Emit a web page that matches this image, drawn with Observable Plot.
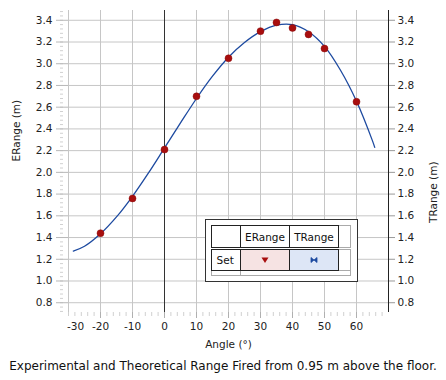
<!DOCTYPE html>
<html><head><meta charset="utf-8">
<script src="https://cdn.jsdelivr.net/npm/d3@7"></script>
<script src="https://cdn.jsdelivr.net/npm/@observablehq/plot@0.6"></script>
<style>
html,body{margin:0;padding:0;background:#fff;}
#wrap{position:relative;width:446px;height:380px;font-family:"DejaVu Sans",sans-serif;overflow:hidden;}
#chart{position:absolute;left:0;top:0;}
#caption{position:absolute;left:0;top:352px;width:446px;height:28px;line-height:28px;text-align:center;font-size:12px;color:#111;white-space:nowrap;}
#legend{position:absolute;left:0;top:0;pointer-events:none;}
</style></head><body>
<div id="wrap"><div id="chart"></div><div id="caption"></div><svg id="legend" width="446" height="380"></svg></div>
<script>
// Experimental range (measured)
const angles = [-20, -10, 0, 10, 20, 30, 35, 40, 45, 50, 60];
const eRange = [1.44, 1.76, 2.21, 2.70, 3.05, 3.30, 3.38, 3.33, 3.27, 3.14, 2.65];
// Theoretical range curve
const tAngles = [-28.5, -25, -20, -15, -10, -5, 0, 5, 10, 15, 20, 25, 30, 35, 40, 45, 50, 55, 60, 65, 65.7];
const tRange  = [1.275, 1.32, 1.435, 1.59, 1.78, 1.995, 2.225, 2.455, 2.68, 2.885, 3.06, 3.195, 3.295, 3.355, 3.36, 3.295, 3.16, 2.94, 2.655, 2.29, 2.23];
// Axis ticks
const xTicks = [-30, -20, -10, 0, 10, 20, 30, 40, 50, 60];
const yTicks = [0.8, 1.0, 1.2, 1.4, 1.6, 1.8, 2.0, 2.2, 2.4, 2.6, 2.8, 3.0, 3.2, 3.4];
const xDomain = [-30, 70];
const yDomain = [0.71, 3.49];
const xLabel = "Angle (°)";
const yLabelLeft = "ERange (m)";
const yLabelRight = "TRange (m)";
const captionText = "Experimental and Theoretical Range Fired from 0.95 m above the floor.";
const legendCols = ["ERange", "TRange"];
const legendRow = "Set";

const expData = angles.map((a, i) => ({angle: a, range: eRange[i]}));
const theoData = tAngles.map((a, i) => ({angle: a, range: tRange[i]}));
const minorX = d3.range(-30, 69, 2);
const minorY = d3.range(0, 70).map(i => +(0.72 + i * 0.04).toFixed(2)).filter(v => v <= 3.48);
const fmt = d3.format(".1f");

const plot = Plot.plot({
  width: 446, height: 352,
  marginTop: 10, marginBottom: 40, marginLeft: 68, marginRight: 58,
  style: {fontFamily: "DejaVu Sans", fontSize: "10.5px", color: "#222", background: "#fff"},
  x: {domain: xDomain},
  y: {domain: yDomain},
  marks: [
    Plot.gridX({ticks: xTicks, stroke: "#c6c6c6", strokeOpacity: 1}),
    Plot.gridY({ticks: yTicks, stroke: "#c6c6c6", strokeOpacity: 1}),
    Plot.axisX({ticks: minorX, tickSize: 4, tickFormat: () => "", stroke: "#d0d0d0", label: null}),
    Plot.axisY({ticks: minorY, tickSize: 3, dx: -5, tickFormat: () => "", stroke: "#d0d0d0", label: null}),
    Plot.axisX({ticks: xTicks.slice(1), tickSize: 6, tickPadding: 4, stroke: "#b0b0b0", fill: "#222", tickFormat: d => String(d), label: null}),
    Plot.axisX({ticks: xTicks.slice(0, 1), tickSize: 0, tickPadding: 10, dx: 7, fill: "#222", tickFormat: d => String(d), label: null}),
    Plot.axisY({ticks: yTicks, tickSize: 12, tickPadding: 4, stroke: "#b8b8b8", fill: "#222", tickFormat: fmt, label: null}),
    Plot.axisY({ticks: yTicks, anchor: "right", tickSize: 6, tickPadding: 3, stroke: "#999", fill: "#222", tickFormat: fmt, label: null}),
    Plot.ruleX([0], {stroke: "#333", strokeWidth: 1}),
    Plot.ruleX([xDomain[1]], {stroke: "#222", strokeWidth: 1}),
    Plot.line(theoData, {x: "angle", y: "range", curve: "catmull-rom", stroke: "#1d4aa0", strokeWidth: 1.3}),
    Plot.dot(expData, {x: "angle", y: "range", r: 3.5, fill: "#a80e0e", stroke: "#8a0a0a", strokeWidth: 0.5}),
    Plot.text([xLabel], {frameAnchor: "bottom", dy: 35, text: d => d, fill: "#222"}),
    Plot.text([yLabelLeft], {frameAnchor: "left", dx: -52, rotate: -90, text: d => d, fill: "#222"}),
    Plot.text([yLabelRight], {frameAnchor: "right", dx: 45, rotate: -90, text: d => d, fill: "#222"})
  ]
});
document.getElementById("chart").appendChild(plot);
document.getElementById("caption").textContent = captionText;

// Legend (table-like box)
const lg = d3.select("#legend");
lg.append("rect").attr("x", 205.5).attr("y", 219.5).attr("width", 152).attr("height", 62)
  .attr("fill", "#fff").attr("stroke", "#333");
const xs = [211.5, 240.5, 289.5, 338.5], xEnd = 350.5;
const r1 = [225.5, 247.5], r2 = [249.5, 270.5], r3 = [270.5, 275.5];
// gray extension cells
lg.append("rect").attr("x", xs[3]).attr("y", r1[0]).attr("width", xEnd - xs[3]).attr("height", r1[1] - r1[0]).attr("fill", "none").attr("stroke", "#aaa");
lg.append("rect").attr("x", xs[3]).attr("y", r2[0]).attr("width", xEnd - xs[3]).attr("height", r2[1] - r2[0]).attr("fill", "none").attr("stroke", "#aaa");
lg.append("rect").attr("x", xs[0]).attr("y", r3[0]).attr("width", xEnd - xs[0]).attr("height", r3[1] - r3[0]).attr("fill", "none").attr("stroke", "#aaa");
lg.append("line").attr("x1", xs[1]).attr("x2", xs[1]).attr("y1", r3[0]).attr("y2", r3[1]).attr("stroke", "#aaa");
const fills2 = ["#fff", "#f6e3e3", "#dde6f6"];
for (let c = 0; c < 3; c++) {
  lg.append("rect").attr("x", xs[c]).attr("y", r1[0]).attr("width", xs[c + 1] - xs[c]).attr("height", r1[1] - r1[0]).attr("fill", "#fff").attr("stroke", "#222");
  lg.append("rect").attr("x", xs[c]).attr("y", r2[0]).attr("width", xs[c + 1] - xs[c]).attr("height", r2[1] - r2[0]).attr("fill", fills2[c]).attr("stroke", "#222");
}
const tstyle = s => s.attr("font-family", "DejaVu Sans").attr("font-size", "10.5px").attr("fill", "#111").attr("dominant-baseline", "central");
tstyle(lg.append("text").attr("x", (xs[1] + xs[2]) / 2).attr("y", 236.5).attr("text-anchor", "middle").text(legendCols[0]));
tstyle(lg.append("text").attr("x", (xs[2] + xs[3]) / 2).attr("y", 236.5).attr("text-anchor", "middle").text(legendCols[1]));
tstyle(lg.append("text").attr("x", 216.5).attr("y", 260).attr("text-anchor", "start").text(legendRow));
lg.append("path").attr("transform", `translate(${(xs[1] + xs[2]) / 2},260)`).attr("d", "M-3.5,-2.5L3.5,-2.5L0,3Z").attr("fill", "#a80e0e");
lg.append("path").attr("transform", `translate(${(xs[2] + xs[3]) / 2},260)`)
  .attr("d", "M-3,-2.5L0,0L-3,2.5Z M3,-2.5L0,0L3,2.5Z").attr("fill", "#1d4aa0").attr("stroke", "#1d4aa0").attr("stroke-width", 0.8);
</script>
</body></html>
